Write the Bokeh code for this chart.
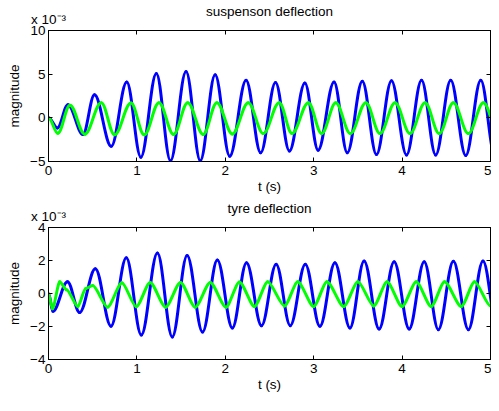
import numpy as np
from bokeh.plotting import figure
from bokeh.models import Range1d, FixedTicker, LinearAxis, ColumnDataSource
from bokeh.layouts import column
from bokeh.embed import file_html
from bokeh.resources import INLINE

FONT = "Liberation Sans"
FS = "13.5px"
BLUE = "#0000FF"
GREEN = "#00FF00"

# ---- data (values in units of 1e-3): turning points ----
susp_blue_t = [0, 0.10, 0.22, 0.39, 0.52, 0.71, 0.885, 1.045, 1.22, 1.38, 1.556, 1.717,
               1.885, 2.05, 2.235, 2.40, 2.568, 2.725, 2.90, 3.05, 3.23, 3.38, 3.55, 3.71,
               3.88, 4.05, 4.22, 4.38, 4.55, 4.72, 4.89, 5.05]
susp_blue_v = [0, -1.15, 1.5, -1.9, 2.65, -3.26, 4.1, -4.5, 5.08, -4.9, 5.3, -4.9,
               4.93, -4.4, 4.3, -4.0, 4.05, -3.8, 4.0, -3.7, 4.1, -4.0, 4.2, -4.2,
               4.25, -4.25, 4.3, -4.25, 4.3, -4.3, 4.3, -4.3]
susp_green_t = [0, 0.105, 0.243, 0.41, 0.597, 0.747, 0.933, 1.083, 1.25, 1.415, 1.575, 1.75,
                1.905, 2.08, 2.26, 2.43, 2.61, 2.755, 2.94, 3.09, 3.25, 3.415, 3.59, 3.75,
                3.92, 4.09, 4.26, 4.42, 4.58, 4.75, 4.92, 5.09]
susp_green_v = [0, -1.77, 1.45, -1.88, 1.74, -1.95, 1.7, -1.95, 1.74, -1.9, 1.74, -1.9,
                1.74, -1.85, 1.74, -1.8, 1.74, -1.8, 1.74, -1.8, 1.74, -1.8, 1.74, -1.8,
                1.74, -1.8, 1.74, -1.8, 1.74, -1.8, 1.74, -1.8]
tyre_blue_t = [0, 0.05, 0.215, 0.352, 0.53, 0.707, 0.88, 1.05, 1.232, 1.40, 1.568, 1.743,
               1.91, 2.08, 2.24, 2.41, 2.575, 2.735, 2.905, 3.07, 3.24, 3.41, 3.57, 3.74,
               3.91, 4.08, 4.25, 4.41, 4.58, 4.75, 4.915, 5.08]
tyre_blue_v = [0, -1.08, 0.71, -1.15, 1.5, -1.98, 2.16, -2.51, 2.45, -2.63, 2.3, -2.34,
               2.03, -2.09, 1.87, -1.95, 1.78, -1.95, 1.78, -1.99, 1.87, -2.09, 1.97, -2.15,
               1.93, -2.15, 1.93, -2.19, 1.95, -2.19, 1.97, -2.19]
tyre_green_t = [0, 0.045, 0.127, 0.205, 0.332, 0.42, 0.50, 0.668, 0.83, 0.993, 1.15, 1.325,
                1.493, 1.66, 1.83, 2.008, 2.16, 2.33, 2.48, 2.67, 2.82, 3.0, 3.15, 3.34,
                3.50, 3.68, 3.83, 4.0, 4.16, 4.33, 4.48, 4.67, 4.82, 5.0]
tyre_green_v = [0, -0.93, 0.71, 0.22, -0.79, 0.3, 0.48, -0.83, 0.65, -0.8, 0.67, -0.83,
                0.67, -0.83, 0.67, -0.83, 0.7, -0.79, 0.71, -0.75, 0.71, -0.79, 0.71, -0.79,
                0.71, -0.75, 0.71, -0.79, 0.71, -0.79, 0.71, -0.79, 0.71, -0.75]

x_ticks = [0, 1, 2, 3, 4, 5]
susp_ticks = [-5, 0, 5, 10]
tyre_ticks = [-4, -2, 0, 2, 4]
exponent_text = "x 10\u207b\u00b3"


def bez_source(t, v, k):
    t = np.asarray(t, float)
    v = np.asarray(v, float)
    x0, x1, y0, y1 = t[:-1], t[1:], v[:-1], v[1:]
    dx = x1 - x0
    return ColumnDataSource(dict(x0=x0, y0=y0, x1=x1, y1=y1,
                                 cx0=x0 + k * dx, cy0=y0, cx1=x1 - k * dx, cy1=y1))


def minus(t):
    return ("\u2212" + str(-t)) if t < 0 else str(t)


def style_axis(ax, ticks):
    ax.ticker = FixedTicker(ticks=ticks)
    ax.major_tick_in = 4
    ax.major_tick_out = 0
    ax.minor_tick_line_color = None
    ax.axis_line_color = "black"
    ax.major_tick_line_color = "black"
    ax.major_label_text_font = FONT
    ax.major_label_text_color = "black"
    ax.major_label_text_font_size = FS
    ax.axis_label_text_font = FONT
    ax.axis_label_text_font_size = FS
    ax.axis_label_text_font_style = "normal"
    ax.axis_label_text_color = "black"


def make_fig(height, border_top, border_bottom, y_lo, y_hi, yticks, title,
             blue_t, blue_v, green_t, green_v, green_k):
    p = figure(width=491, height=height, x_range=Range1d(0, 5), y_range=Range1d(y_lo, y_hi),
               output_backend="svg", toolbar_location=None,
               min_border_left=48, min_border_right=1,
               min_border_top=border_top, min_border_bottom=border_bottom)
    p.grid.visible = False
    p.background_fill_color = "white"
    p.border_fill_color = "white"
    p.outline_line_color = "black"
    p.outline_line_width = 1

    xb = p.xaxis[0]
    style_axis(xb, x_ticks)
    xb.major_label_overrides = {t: minus(t) for t in x_ticks}
    xb.major_label_standoff = 4
    xb.axis_label = "t (s)"
    xb.axis_label_standoff = 1

    yl = p.yaxis[0]
    style_axis(yl, yticks)
    yl.major_label_overrides = {t: minus(t) for t in yticks}
    yl.major_label_standoff = 3
    yl.axis_label = "magnitude"
    yl.axis_label_standoff = 5

    # top axis: tick marks of the box, the exponent note and the subplot title
    xt = LinearAxis()
    style_axis(xt, x_ticks)
    xt.major_label_overrides = {t: (exponent_text if t == 0 else "") for t in x_ticks}
    xt.major_label_text_align = "left"
    xt.major_label_standoff = 4
    xt.axis_label = title
    xt.axis_label_standoff = -10
    p.add_layout(xt, "above")

    # right axis: tick marks of the box only
    yr = LinearAxis()
    style_axis(yr, yticks)
    yr.major_label_overrides = {t: "" for t in yticks}
    yr.major_label_standoff = 0
    p.add_layout(yr, "right")

    p.bezier(x0="x0", y0="y0", x1="x1", y1="y1", cx0="cx0", cy0="cy0", cx1="cx1", cy1="cy1",
             source=bez_source(blue_t, blue_v, 0.36), line_color=BLUE, line_width=3,
             line_cap="round")
    p.bezier(x0="x0", y0="y0", x1="x1", y1="y1", cx0="cx0", cy0="cy0", cx1="cx1", cy1="cy1",
             source=bez_source(green_t, green_v, green_k), line_color=GREEN, line_width=3,
             line_cap="round")
    return p


p1 = make_fig(197, 28, 36, -5, 10, susp_ticks, "suspenson deflection",
              susp_blue_t, susp_blue_v, susp_green_t, susp_green_v, 0.36)
p2 = make_fig(198, 28, 36, -4, 4, tyre_ticks, "tyre deflection",
              tyre_blue_t, tyre_blue_v, tyre_green_t, tyre_green_v, 0.26)

layout = column(p1, p2)
open("out.html", "w").write(file_html(layout, INLINE))
